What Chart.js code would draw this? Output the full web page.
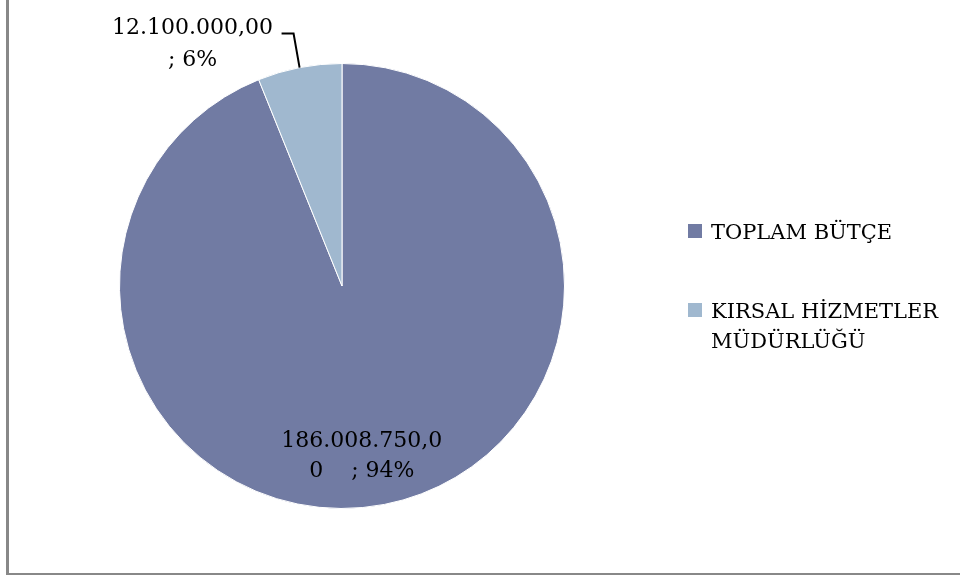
<!DOCTYPE html>
<html>
<head>
<meta charset="utf-8">
<script src="https://cdn.jsdelivr.net/npm/chart.js@4"></script>
<style>
  html, body { margin: 0; padding: 0; background: #fff; }
  #wrap { width: 960px; height: 575px; }
</style>
</head>
<body>
<div id="wrap"><canvas id="budgetPie" width="960" height="575"></canvas></div>
<script>
const categories = ['TOPLAM BÜTÇE', 'KIRSAL HİZMETLER MÜDÜRLÜĞÜ'];
const budgetValues = [186008750, 12100000];
const sliceColors = ['#717ba3', '#a0b8cf'];
// legend text as it wraps in the original
const legendLines = [['TOPLAM BÜTÇE'], ['KIRSAL HİZMETLER', 'MÜDÜRLÜĞÜ']];

const LABEL_FONT = '22px "DejaVu Serif", serif';
const LEGEND_FONT = '21px "DejaVu Serif", serif';

function trMoney(v) {
  const whole = Math.floor(v).toString().replace(/\B(?=(\d{3})+(?!\d))/g, '.');
  const cents = Math.round((v - Math.floor(v)) * 100).toString().padStart(2, '0');
  return whole + ',' + cents;
}

const total = budgetValues.reduce((a, b) => a + b, 0);
const pctText = budgetValues.map((v) => Math.round(v / total * 100) + '%');

const labelsPlugin = {
  id: 'excelLook',
  afterDraw(chart) {
    const ctx = chart.ctx;
    const arcs = chart.getDatasetMeta(0).data;
    ctx.save();

    // frame (only left + bottom edges are inside the picture)
    ctx.fillStyle = '#888888';
    ctx.fillRect(6, 0, 3, 575);
    ctx.fillRect(6, 573, 954, 2);

    // legend
    ctx.font = LEGEND_FONT;
    const legendTops = [224, 303];
    legendLines.forEach((lines, i) => {
      ctx.fillStyle = sliceColors[i];
      ctx.fillRect(688, legendTops[i], 14, 14);
      ctx.fillStyle = '#000';
      ctx.textAlign = 'left';
      ctx.textBaseline = 'alphabetic';
      lines.forEach((t, j) => ctx.fillText(t, 711, legendTops[i] + 15 + j * 30));
    });

    ctx.font = LABEL_FONT;
    ctx.fillStyle = '#000';

    // big slice label, inside
    {
      const a = arcs[0];
      const mid = (a.startAngle + a.endAngle) / 2;
      const r = a.outerRadius * 0.75;
      const cx = a.x + Math.cos(mid) * r - 12;
      const cy = a.y + Math.sin(mid) * r;
      const money = trMoney(budgetValues[0]);
      const lines = [money.slice(0, -1), money.slice(-1) + '    ; ' + pctText[0]];
      ctx.textAlign = 'center';
      ctx.textBaseline = 'alphabetic';
      ctx.fillText(lines[0], cx, cy - 3);
      ctx.fillText(lines[1], cx, cy + 27);
    }

    // small slice label, outside with leader line
    {
      const a = arcs[1];
      const mid = (a.startAngle + a.endAngle) / 2;
      const ex = a.x + Math.cos(mid) * a.outerRadius;
      const ey = a.y + Math.sin(mid) * a.outerRadius;
      const bx = ex - 6, by = ey - 34;
      ctx.strokeStyle = '#000';
      ctx.lineWidth = 2;
      ctx.beginPath();
      ctx.moveTo(ex, ey);
      ctx.lineTo(bx, by);
      ctx.lineTo(bx - 12, by);
      ctx.stroke();
      ctx.textAlign = 'center';
      ctx.fillText(trMoney(budgetValues[1]), bx - 101, by);
      ctx.fillText('; ' + pctText[1], bx - 101, by + 32);
    }
    ctx.restore();
  }
};

new Chart(document.getElementById('budgetPie'), {
  type: 'pie',
  data: {
    labels: categories,
    datasets: [{
      data: budgetValues,
      backgroundColor: sliceColors,
      borderColor: '#ffffff',
      borderWidth: 1
    }]
  },
  options: {
    responsive: false,
    animation: false,
    devicePixelRatio: 1,
    layout: { padding: { top: 63, bottom: 66, left: 119, right: 395 } },
    plugins: {
      legend: { display: false },
      tooltip: { enabled: false }
    }
  },
  plugins: [labelsPlugin]
});
</script>
</body>
</html>
